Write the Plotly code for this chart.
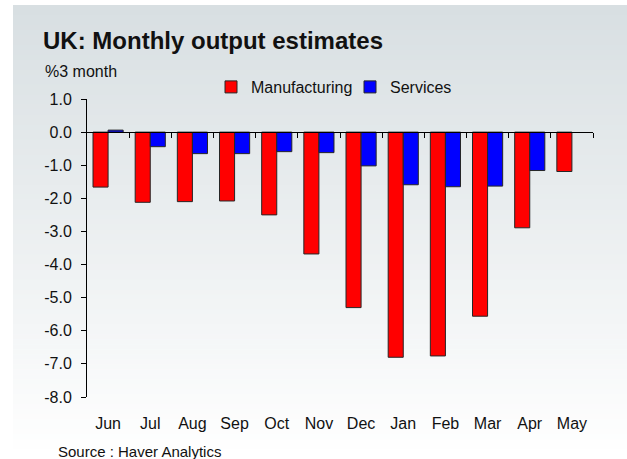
import plotly.graph_objects as go

# --- data -------------------------------------------------------------
months = ["Jun", "Jul", "Aug", "Sep", "Oct", "Nov", "Dec",
          "Jan", "Feb", "Mar", "Apr", "May"]
manufacturing = [-1.66, -2.12, -2.10, -2.08, -2.50, -3.68, -5.30,
                 -6.80, -6.76, -5.56, -2.89, -1.19]
services = [0.06, -0.44, -0.65, -0.65, -0.59, -0.62, -1.02,
            -1.59, -1.65, -1.63, -1.16, None]
y_ticks = [1, 0, -1, -2, -3, -4, -5, -6, -7, -8]
y_tick_text = [f"{v:.1f}" for v in y_ticks]

# --- geometry (pixels) -------------------------------------------------
W, H = 627, 459
ML, MR, MT, MB = 87, 34, 99, 62
PW, PH = W - ML - MR, H - MT - MB
Y_MIN, Y_MAX = min(y_ticks), max(y_ticks)
FONT = "Liberation Sans, Arial, sans-serif"


def px(x):
    """pixel x -> paper x"""
    return (x - ML) / PW


def py(y):
    """pixel y (from top) -> paper y"""
    return (H - MB - y) / PH


fig = go.Figure()

fig.add_trace(go.Bar(
    x=months, y=manufacturing, name="Manufacturing",
    marker=dict(color="#ff0000", line=dict(color="#262626", width=1)),
    legend="legend",
))
fig.add_trace(go.Bar(
    x=months, y=services, name="Services",
    marker=dict(color="#0000ff", line=dict(color="#262626", width=1)),
    legend="legend2",
))
# carrier for the zero-line axis with the category separator ticks
fig.add_trace(go.Scatter(
    x=[0], y=[0], xaxis="x2", mode="markers",
    marker=dict(opacity=0), showlegend=False, hoverinfo="skip",
))

# background panel: vertical gradient from grey-blue to white
top_rgb = (216, 223, 226)
bot_rgb = (255, 255, 255)
y_top, y_bot = 5, H
n_bands = 91
shapes = []
for i in range(n_bands):
    t = i / (n_bands - 1)
    c = tuple(round(a + (b - a) * t) for a, b in zip(top_rgb, bot_rgb))
    y0 = y_top + (y_bot - y_top) * i / n_bands
    y1 = y_top + (y_bot - y_top) * (i + 1) / n_bands + 0.6
    shapes.append(dict(
        type="rect", xref="paper", yref="paper", layer="below",
        x0=px(13), x1=px(W + 2), y0=py(y0), y1=py(min(y1, H + 2)),
        fillcolor=f"rgb{c}", line=dict(width=0),
    ))

zero_pos = (0 - Y_MIN) / (Y_MAX - Y_MIN)

fig.update_layout(
    width=W, height=H,
    margin=dict(l=ML, r=MR, t=MT, b=MB, pad=0),
    paper_bgcolor="white",
    plot_bgcolor="rgba(0,0,0,0)",
    font=dict(family=FONT, size=16, color="#111111"),
    barmode="group", bargap=0.285, bargroupgap=0,
    shapes=shapes,
    title=dict(
        text="<b>UK: Monthly output estimates</b>",
        font=dict(family=FONT, size=24, color="#111111"),
        xref="container", yref="container",
        x=43 / W, xanchor="left",
        y=1 - 41 / H, yanchor="middle",
    ),
    xaxis=dict(
        type="category", range=[-0.5, len(months) - 0.5],
        showline=False, ticks="", showgrid=False, zeroline=False,
        tickfont=dict(size=16), ticklabelstandoff=15,
    ),
    xaxis2=dict(
        overlaying="x", anchor="free", position=zero_pos, side="bottom",
        range=[-0.5, len(months) - 0.5],
        tickmode="array",
        tickvals=[i + 0.5 for i in range(len(months))],
        ticks="outside", ticklen=5, tickwidth=1, tickcolor="black",
        showline=True, linecolor="black", linewidth=1,
        showticklabels=False, showgrid=False, zeroline=False,
    ),
    yaxis=dict(
        range=[Y_MIN, Y_MAX],
        tickmode="array", tickvals=y_ticks, ticktext=y_tick_text,
        ticks="outside", ticklen=5, tickwidth=1, tickcolor="black",
        showline=True, linecolor="black", linewidth=1,
        showgrid=False, zeroline=False,
        tickfont=dict(size=16), ticklabelstandoff=6,
    ),
    legend=dict(
        orientation="h", x=px(211), y=py(87), xanchor="left", yanchor="middle",
        bgcolor="rgba(0,0,0,0)", font=dict(size=16), itemclick=False,
    ),
    legend2=dict(
        orientation="h", x=px(350), y=py(87), xanchor="left", yanchor="middle",
        bgcolor="rgba(0,0,0,0)", font=dict(size=16), itemclick=False,
    ),
    annotations=[
        dict(text="%3 month", xref="paper", yref="paper",
             x=px(43), y=py(72), xanchor="left", yanchor="middle",
             showarrow=False, font=dict(size=16, color="#111111")),
        dict(text="Source : Haver Analytics", xref="paper", yref="paper",
             x=px(56), y=py(451.5), xanchor="left", yanchor="middle",
             showarrow=False, font=dict(size=15, color="#111111")),
    ],
)

fig.write_html("out.html")
